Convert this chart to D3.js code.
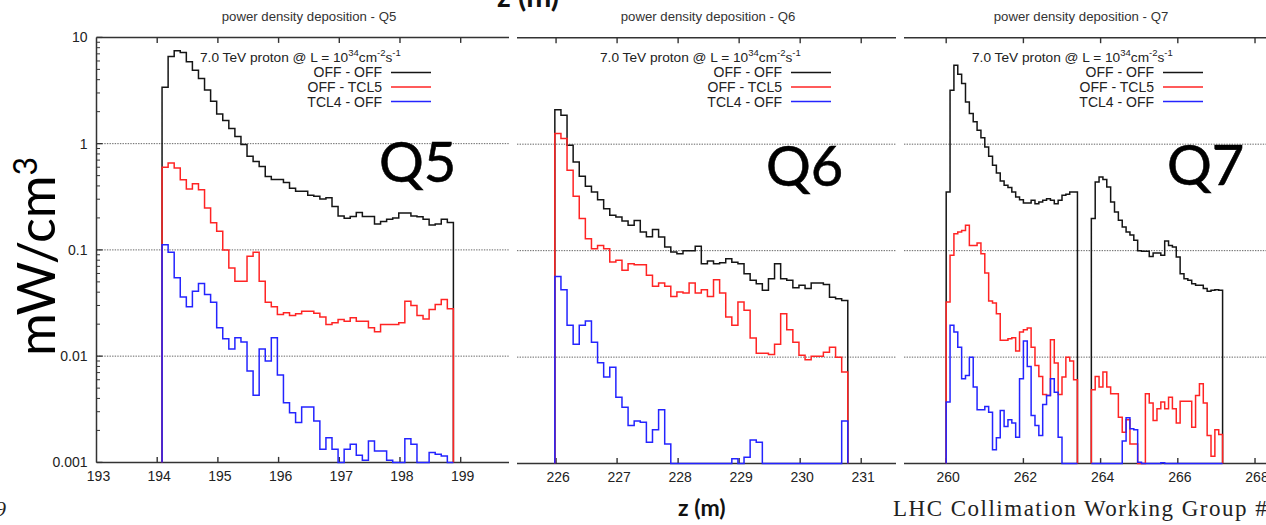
<!DOCTYPE html>
<html><head><meta charset="utf-8">
<script src="https://cdn.jsdelivr.net/npm/d3@7"></script>
<style>
html,body{margin:0;padding:0;background:#fff;overflow:hidden}
svg{display:block}
</style></head><body>
<svg id="chart" width="1266" height="525"></svg>
<script>
// ---- data -------------------------------------------------------------
const binWidth = 0.1;                       // histogram bin width in z (m)
const yTickValues = [10, 1, 0.1, 0.01, 0.001];
const yTickLabels = ["10", "1", "0.1", "0.01", "0.001"];
const gridValues = [1, 0.1, 0.01];
const seriesNames = ["OFF - OFF", "OFF - TCL5", "TCL4 - OFF"];
const magnetNames = ["Q5", "Q6", "Q7"];
const panelTitles = ["power density deposition - Q5", "power density deposition - Q6", "power density deposition - Q7"];
const q5Ticks = [193, 194, 195, 196, 197, 198, 199];
const q6Ticks = [226, 227, 228, 229, 230, 231];
const q7Ticks = [260, 262, 264, 266, 268];

// Q5: one magnet, bins starting at z = 194.08 m
const q5Start = 194.08;
const q5OffOff = [3.4, 6.6, 7.5, 7.2, 5.9, 4.9, 4.1, 3.2, 2.5, 1.9, 1.65, 1.39, 1.17, 0.98, 0.76, 0.68, 0.61, 0.49, 0.46, 0.46, 0.43, 0.38, 0.356, 0.356, 0.326, 0.319, 0.302, 0.31, 0.256, 0.209, 0.199, 0.206, 0.225, 0.206, 0.206, 0.175, 0.185, 0.194, 0.2, 0.222, 0.222, 0.209, 0.205, 0.194, 0.172, 0.175, 0.194, 0.181];
const q5OffTcl5 = [0.6, 0.656, 0.59, 0.458, 0.374, 0.42, 0.369, 0.248, 0.18, 0.15, 0.1, 0.0677, 0.0507, 0.0507, 0.0871, 0.095, 0.0507, 0.0322, 0.0291, 0.0247, 0.0256, 0.0241, 0.025, 0.0265, 0.0265, 0.0253, 0.0234, 0.0199, 0.0206, 0.0221, 0.0213, 0.023, 0.0213, 0.0213, 0.0185, 0.017, 0.0199, 0.0199, 0.0199, 0.0206, 0.0329, 0.03, 0.0241, 0.0224, 0.0275, 0.0306, 0.0341, 0.028];
const q5Tcl4Off = [0.112, 0.095, 0.0546, 0.0361, 0.0291, 0.0408, 0.0482, 0.038, 0.0322, 0.0185, 0.0146, 0.0117, 0.0149, 0.0136, 0.00724, 0.00428, 0.0117, 0.00898, 0.0149, 0.00664, 0.00365, 0.00294, 0.00237, 0.00332, 0.00332, 0.00245, 0.00133, 0.00171, 0.00133, 0, 0.00133, 0.00148, 0.00117, 0.00105, 0.00159, 0.00128, 0.00128, 0.00105, 0, 0, 0.00167, 0.00148, 0, 0, 0.00124, 0.00119, 0.00115, 0];

// Q6: one magnet, bins starting at z = 225.98 m
const q6Start = 225.98;
const q6OffOff = [2.11, 1.87, 0.977, 0.68, 0.499, 0.402, 0.356, 0.301, 0.248, 0.215, 0.207, 0.19, 0.173, 0.192, 0.15, 0.135, 0.158, 0.134, 0.108, 0.097, 0.0937, 0.1, 0.1, 0.11, 0.0755, 0.08, 0.0755, 0.077, 0.084, 0.078, 0.0755, 0.0608, 0.0526, 0.049, 0.0424, 0.0546, 0.0755, 0.0546, 0.0526, 0.0449, 0.0472, 0.044, 0.0497, 0.0497, 0.0482, 0.0366, 0.0354, 0.0341];
const q6OffTcl5 = [1.26, 1.13, 0.569, 0.324, 0.2, 0.1296, 0.1044, 0.112, 0.1044, 0.0782, 0.0811, 0.0653, 0.0755, 0.0739, 0.0739, 0.0586, 0.0462, 0.0496, 0.0462, 0.0372, 0.0408, 0.04, 0.0496, 0.04, 0.043, 0.0372, 0.0533, 0.04, 0.0238, 0.0199, 0.0329, 0.0275, 0.0151, 0.0109, 0.0109, 0.0106, 0.0132, 0.0256, 0.0181, 0.0138, 0.0104, 0.00944, 0.0102, 0.0102, 0.0111, 0.0124, 0.01, 0.00723];
const q6Tcl4Off = [0.0573, 0.043, 0.0199, 0.0132, 0.0199, 0.0218, 0.0138, 0.00885, 0.00649, 0.00805, 0.00421, 0.00339, 0.00228, 0.00251, 0.00245, 0.00159, 0.00208, 0.0032, 0.00153, 0, 0, 0, 0, 0, 0, 0, 0, 0, 0, 0.00111, 0, 0.00115, 0.00167, 0.00159, 0, 0, 0, 0, 0, 0, 0, 0, 0, 0, 0, 0, 0, 0.00251];

// Q7: two magnets (A and B)
const q7aStart = 260.0;
const q7bStart = 263.76;
const q7aOffOff = [0.356, 3.21, 5.52, 4.54, 3.71, 2.49, 1.94, 1.62, 1.35, 1.15, 0.941, 0.769, 0.634, 0.537, 0.451, 0.411, 0.391, 0.356, 0.319, 0.301, 0.28, 0.28, 0.297, 0.276, 0.286, 0.297, 0.308, 0.297, 0.276, 0.297, 0.331, 0.338, 0.356, 0.356];
const q7aOffTcl5 = [0.0329, 0.0903, 0.144, 0.15, 0.155, 0.173, 0.112, 0.112, 0.118, 0.0937, 0.0616, 0.0336, 0.0322, 0.0256, 0.0144, 0.0144, 0.0149, 0.0152, 0.0114, 0.0172, 0.0181, 0.0188, 0.0124, 0.00835, 0.00659, 0.00446, 0.00436, 0.0146, 0.00879, 0.00446, 0.00649, 0.01, 0.00918, 0.00612];
const q7aTcl4Off = [0.00378, 0.0199, 0.0172, 0.0124, 0.00626, 0.00673, 0.01, 0.00523, 0.0032, 0.0032, 0.00344, 0.00304, 0.00135, 0.00175, 0.00315, 0.00223, 0.00258, 0.0024, 0.00177, 0.00626, 0.0142, 0.00818, 0.00283, 0.00228, 0.00184, 0.00359, 0.00436, 0.00626, 0.00469, 0.00177, 0, 0, 0, 0];
const q7bOffOff = [0.2, 0.442, 0.492, 0.465, 0.397, 0.286, 0.231, 0.193, 0.167, 0.15, 0.14, 0.125, 0.1, 0.0985, 0.0985, 0.0883, 0.095, 0.095, 0.0903, 0.123, 0.112, 0.108, 0.0871, 0.0608, 0.0545, 0.0526, 0.049, 0.0472, 0.0472, 0.044, 0.0415, 0.0424, 0.043, 0.0424];
const q7bOffTcl5 = [0.00493, 0.00659, 0.00523, 0.00723, 0.00523, 0.00453, 0.00453, 0.00273, 0.00197, 0.00258, 0.00153, 0.00153, 0, 0, 0.00453, 0.0037, 0.00254, 0.00327, 0.00378, 0.00327, 0.00421, 0.00327, 0.0024, 0.00386, 0.00386, 0.00386, 0.0022, 0.00436, 0.00562, 0.0037, 0.00184, 0.00117, 0.00208, 0.00188];
const q7bTcl4Off = [0, 0, 0, 0, 0, 0, 0, 0, 0.00163, 0.00269, 0.00212, 0.00208, 0.00103, 0, 0, 0, 0, 0, 0.00102, 0, 0, 0, 0, 0, 0, 0, 0, 0, 0, 0, 0, 0, 0, 0];

// ---- layout -----------------------------------------------------------
const colors = ["#151515", "#ff2424", "#2424ff"];
const svg = d3.select("#chart");
const yMin = 0.001;

const panels = [
  { title: panelTitles[0], name: magnetNames[0], ticks: q5Ticks,
    domain: [193, 199.796], range: [96.5, 509], yRange: [462.4, 37.4],
    leftAxis: true, titleX: 309, nameX: 379, nameY: 182, legendX: 431, headerX: 200,
    series: [[q5Start, q5OffOff, q5OffTcl5, q5Tcl4Off]] },
  { title: panelTitles[1], name: magnetNames[1], ticks: q6Ticks,
    domain: [225.36, 231.57], range: [517, 896], yRange: [463.6, 37.7],
    leftAxis: false, titleX: 708, nameX: 766, nameY: 186, legendX: 831, headerX: 600,
    series: [[q6Start, q6OffOff, q6OffTcl5, q6Tcl4Off]] },
  { title: panelTitles[2], name: magnetNames[2], ticks: q7Ticks,
    domain: [258.907, 268.3], range: [904, 1266.6], yRange: [463.6, 37.7],
    leftAxis: false, titleX: 1081, nameX: 1167, nameY: 185, legendX: 1203, headerX: 972,
    series: [[q7aStart, q7aOffOff, q7aOffTcl5, q7aTcl4Off], [q7bStart, q7bOffOff, q7bOffTcl5, q7bTcl4Off]] }
];

const sansFont = "'Liberation Sans', Arial, sans-serif";
const bigFont = "Lato, 'Open Sans', sans-serif";

function stepPoints(start, values) {
  const pts = [[start, yMin]];
  values.forEach((v, i) => {
    pts.push([start + i * binWidth, v]);
    pts.push([start + (i + 1) * binWidth, v]);
  });
  pts.push([start + values.length * binWidth, yMin]);
  return pts;
}

panels.forEach(p => {
  const x = d3.scaleLinear().domain(p.domain).range(p.range);
  const y = d3.scaleLog().domain([yMin, 10]).range(p.yRange).clamp(true);
  const g = svg.append("g");
  const [x0, x1] = p.range;
  const [yb, yt] = p.yRange;

  // title
  g.append("text").attr("x", p.titleX).attr("y", 20.5)
    .attr("text-anchor", "middle").attr("font-family", sansFont)
    .attr("font-size", 13.2).attr("fill", "#333").text(p.title);

  // dotted grid
  g.selectAll("line.grid").data(gridValues).enter().append("line")
    .attr("x1", x0).attr("x2", Math.min(x1, 1266)).attr("y1", d => y(d)).attr("y2", d => y(d))
    .attr("stroke", "#666").attr("stroke-width", 1).attr("stroke-dasharray", "1.4,1.2");

  // frame (top and bottom) with ticks
  const ax = "#333";
  g.append("line").attr("x1", x0).attr("x2", x1).attr("y1", yt).attr("y2", yt)
    .attr("stroke", ax).attr("stroke-width", 1.5);
  g.append("line").attr("x1", x0).attr("x2", x1).attr("y1", yb).attr("y2", yb)
    .attr("stroke", ax).attr("stroke-width", 1.5);
  const tickG = g.append("g");
  p.ticks.forEach(t => {
    const tx = x(t);
    if (tx > x0 + 2) {
      tickG.append("line").attr("x1", tx).attr("x2", tx).attr("y1", yt).attr("y2", yt + 5.5)
        .attr("stroke", ax).attr("stroke-width", 1.4);
      tickG.append("line").attr("x1", tx).attr("x2", tx).attr("y1", yb).attr("y2", yb - 5.5)
        .attr("stroke", ax).attr("stroke-width", 1.4);
    }
    tickG.append("text").attr("x", tx + 2).attr("y", yb + 18.5)
      .attr("text-anchor", "middle").attr("font-family", sansFont)
      .attr("font-size", 14).attr("fill", "#222").text(t);
  });

  if (p.leftAxis) {
    g.append("line").attr("x1", x0).attr("x2", x0).attr("y1", yt).attr("y2", yb)
      .attr("stroke", ax).attr("stroke-width", 1.5);
    yTickValues.forEach((v, i) => {
      g.append("line").attr("x1", x0).attr("x2", x0 + 6).attr("y1", y(v)).attr("y2", y(v))
        .attr("stroke", ax).attr("stroke-width", 1.3);
      g.append("text").attr("x", x0 - 9).attr("y", y(v) + 5)
        .attr("text-anchor", "end").attr("font-family", sansFont)
        .attr("font-size", 14).attr("fill", "#222").text(yTickLabels[i]);
    });
    const minor = [];
    [0.001, 0.01, 0.1, 1].forEach(d => { for (let k = 2; k <= 9; k++) minor.push(d * k); });
    minor.forEach(v => {
      g.append("line").attr("x1", x0).attr("x2", x0 + 3.5).attr("y1", y(v)).attr("y2", y(v))
        .attr("stroke", ax).attr("stroke-width", 1);
    });
  }

  // histograms: OFF-OFF, then OFF-TCL5, then TCL4-OFF on top
  const line = d3.line().x(d => x(d[0])).y(d => y(Math.max(d[1], yMin)));
  [0, 1, 2].forEach(si => {
    p.series.forEach(seg => {
      g.append("path").attr("d", line(stepPoints(seg[0], seg[si + 1])))
        .attr("fill", "none").attr("stroke", colors[si]).attr("stroke-width", 1.5)
        .attr("stroke-linejoin", "miter");
    });
  });

  // legend header
  const hdr = g.append("text").attr("x", p.headerX).attr("y", 61.5)
    .attr("font-family", sansFont).attr("font-size", 13.7).attr("fill", "#222");
  hdr.append("tspan").text("7.0 TeV proton @ L = 10");
  hdr.append("tspan").attr("dy", -5.5).attr("font-size", 9.5).text("34");
  hdr.append("tspan").attr("dy", 5.5).text("cm");
  hdr.append("tspan").attr("dy", -5.5).attr("font-size", 9.5).text("-2");
  hdr.append("tspan").attr("dy", 5.5).text("s");
  hdr.append("tspan").attr("dy", -5.5).attr("font-size", 9.5).text("-1");

  seriesNames.forEach((n, i) => {
    const ly = 72.4 + i * 14.6;
    g.append("text").attr("x", p.legendX - 49).attr("y", ly + 5)
      .attr("text-anchor", "end").attr("font-family", sansFont)
      .attr("font-size", 14).attr("fill", "#222").text(n);
    g.append("line").attr("x1", p.legendX - 40).attr("x2", p.legendX).attr("y1", ly).attr("y2", ly)
      .attr("stroke", colors[i]).attr("stroke-width", 1.5);
  });

  // magnet name
  g.append("text").attr("x", p.nameX).attr("y", p.nameY)
    .attr("font-family", bigFont).attr("font-size", 56).attr("fill", "#000")
    .attr("stroke", "#000").attr("stroke-width", 0.6).text(p.name);
});

// vertical unit label
const yl = svg.append("text").attr("transform", "translate(55,356) rotate(-90)")
  .attr("font-family", bigFont).attr("font-size", 52).attr("fill", "#000");
yl.append("tspan").text("mW/cm");
yl.append("tspan").attr("dy", -18).attr("font-size", 32).text("3");

// horizontal axis label (bottom) and the cut-off one at the top
svg.append("text").attr("x", 678).attr("y", 516).attr("font-family", bigFont)
  .attr("font-weight", 700).attr("font-size", 23).attr("fill", "#111").text("z (m)");
svg.append("text").attr("x", 497).attr("y", 6.5).attr("font-family", bigFont)
  .attr("font-weight", 700).attr("font-size", 30).attr("fill", "#111").text("z (m)");

// footer
svg.append("text").attr("x", 893).attr("y", 516).attr("font-family", "'Liberation Serif', serif")
  .attr("font-size", 23).attr("letter-spacing", 1.5).attr("fill", "#222").text("LHC Collimation Working Group #1");
svg.append("text").attr("x", -5).attr("y", 516).attr("font-family", "'Liberation Serif', serif")
  .attr("font-style", "italic").attr("font-size", 22).attr("fill", "#222").text("9");
</script>
</body></html>
